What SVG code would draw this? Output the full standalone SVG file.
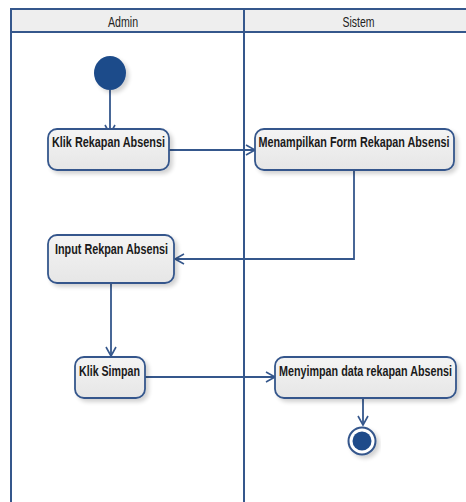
<svg xmlns="http://www.w3.org/2000/svg" width="466" height="502" viewBox="0 0 466 502">
  <defs>
    <linearGradient id="boxFill" x1="0" y1="0" x2="0" y2="1">
      <stop offset="0" stop-color="#f4f4f4"/>
      <stop offset="1" stop-color="#e6e6e6"/>
    </linearGradient>
    <filter id="shadow" x="-20%" y="-20%" width="140%" height="150%">
      <feGaussianBlur in="SourceAlpha" stdDeviation="2"/>
      <feOffset dx="3" dy="3" result="b"/>
      <feComponentTransfer><feFuncA type="linear" slope="0.18"/></feComponentTransfer>
      <feMerge><feMergeNode/><feMergeNode in="SourceGraphic"/></feMerge>
    </filter>
    <marker id="open" markerWidth="12" markerHeight="12" refX="10" refY="6" orient="auto" markerUnits="userSpaceOnUse">
      <path d="M1,1 L10,6 L1,11" fill="none" stroke="#35578c" stroke-width="1.6"/>
    </marker>
  </defs>
  <style>
    .lane { fill: none; stroke: #35578c; stroke-width: 2; }
    .head { fill: #eeeeee; stroke: #35578c; stroke-width: 2; }
    .htxt { font-family: "Liberation Sans", Arial, sans-serif; font-size: 14px; fill: #222; text-anchor: middle; }
    .act { fill: url(#boxFill); stroke: #35578c; stroke-width: 1.8; filter: url(#shadow); }
    .atxt { font-family: "Liberation Sans", Arial, sans-serif; font-size: 14px; font-weight: bold; fill: #1a1a1a; text-anchor: middle; }
    .edge { fill: none; stroke: #35578c; stroke-width: 1.8; marker-end: url(#open); }
  </style>
  <rect width="466" height="502" fill="#ffffff"/>

  <!-- swimlanes -->
  <g id="lanes">
    <rect class="head" x="11" y="9" width="470" height="23"/>
    <rect class="lane" x="11" y="9" width="470" height="500"/>
    <line class="lane" x1="244" y1="9" x2="244" y2="502"/>
    <!-- narrow lettering: horizontally condensed -->
    <text class="htxt" transform="translate(123,27) scale(0.77,1)" textLength="39" lengthAdjust="spacingAndGlyphs">Admin</text>
    <text class="htxt" transform="translate(358.5,27) scale(0.77,1)" textLength="41.6" lengthAdjust="spacingAndGlyphs">Sistem</text>
  </g>

  <!-- connectors -->
  <g id="connectors">
    <path class="edge" d="M110,90 V134"/>
    <path class="edge" d="M169,150 H255"/>
    <path class="edge" d="M354,171 V259 H175"/>
    <path class="edge" d="M111,284 V356"/>
    <path class="edge" d="M145,377 H275"/>
    <path class="edge" d="M363,399 V425"/>
  </g>

  <g id="start">
    <ellipse cx="110" cy="73" rx="16" ry="17" fill="#1f4b8a" filter="url(#shadow)"/>
  </g>

  <g id="klik-rekapan">
    <rect class="act" x="48" y="129" width="121" height="41" rx="9"/>
    <text class="atxt" transform="translate(108.5,146.5) scale(0.77,1)" textLength="146.8" lengthAdjust="spacingAndGlyphs">Klik Rekapan Absensi</text>
  </g>

  <g id="menampilkan-form">
    <rect class="act" x="255" y="129" width="199" height="41" rx="9"/>
    <text class="atxt" transform="translate(354,146.5) scale(0.77,1)" textLength="248" lengthAdjust="spacingAndGlyphs">Menampilkan Form Rekapan Absensi</text>
  </g>

  <g id="input-rekapan">
    <rect class="act" x="48" y="235" width="126" height="48" rx="9"/>
    <text class="atxt" transform="translate(111.5,253.5) scale(0.77,1)" textLength="146.8" lengthAdjust="spacingAndGlyphs">Input Rekpan Absensi</text>
  </g>

  <g id="klik-simpan">
    <rect class="act" x="75" y="357" width="70" height="41" rx="9"/>
    <text class="atxt" transform="translate(109.5,375.5) scale(0.77,1)" textLength="79.2" lengthAdjust="spacingAndGlyphs">Klik Simpan</text>
  </g>

  <g id="menyimpan-data">
    <rect class="act" x="275" y="357" width="181" height="41" rx="9"/>
    <text class="atxt" transform="translate(365.5,375.5) scale(0.77,1)" textLength="224.7" lengthAdjust="spacingAndGlyphs">Menyimpan data rekapan Absensi</text>
  </g>

  <g id="end">
    <circle cx="362" cy="441" r="13.5" fill="#ffffff" stroke="#35578c" stroke-width="2" filter="url(#shadow)"/>
    <circle cx="362" cy="441" r="9.5" fill="#1f4b8a"/>
  </g>
</svg>
